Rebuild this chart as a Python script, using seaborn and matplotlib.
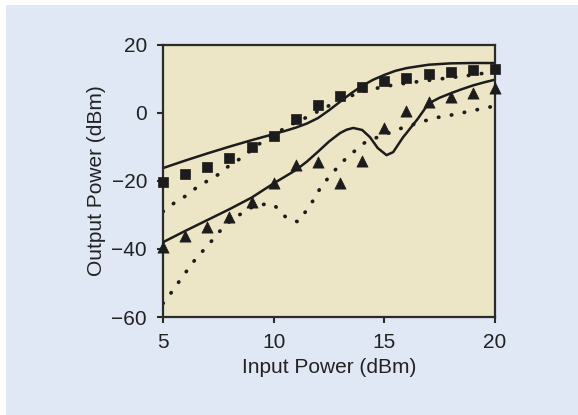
import numpy as np
import pandas as pd
import matplotlib
matplotlib.use("Agg")
import matplotlib.pyplot as plt
from matplotlib.patches import Rectangle
import seaborn as sns

# measured points (markers)
x_pts = [5, 6, 7, 8, 9, 10, 11, 12, 13, 14, 15, 16, 17, 18, 19, 20]
sq_y = [-20.2, -17.8, -15.8, -13.3, -10.1, -6.8, -1.9, 2.3, 5.0, 7.6, 9.5, 10.4, 11.4, 12.0, 12.5, 12.9]
tri_y = [-39.5, -36.3, -33.6, -30.6, -26.3, -20.6, -15.3, -14.3, -20.6, -14.0, -4.5, 0.5, 3.1, 4.8, 5.8, 7.3]

# upper solid curve
up_sol_x = [5, 6, 7, 8, 9, 10, 10.5, 11, 11.5, 12, 12.5, 13, 13.5, 14, 14.5, 15, 15.5, 16, 17, 18, 19, 20]
up_sol_y = [-16.2, -14.0, -11.9, -9.9, -8.0, -6.2, -5.3, -4.3, -3.1, -1.5, 0.8, 3.3, 5.8, 8.0, 9.8, 11.2, 12.4, 13.2, 14.2, 14.6, 14.7, 14.7]

# upper dotted curve
up_dot_x = [5, 5.5, 6, 6.5, 7, 7.6, 8, 8.6, 9, 9.6, 10, 10.7, 11, 11.7, 12, 13, 14, 15, 16, 17, 18, 19, 20]
up_dot_y = [-29.0, -26.5, -24.5, -22.0, -20.0, -17.7, -15.4, -13.0, -10.8, -7.9, -6.5, -3.6, -2.8, -0.6, 0.5, 3.8, 6.3, 7.8, 8.8, 9.6, 10.4, 11.2, 12.2]

# lower solid curve
lo_sol_x = [5, 6, 7, 8, 9, 10, 11, 11.5, 12, 12.5, 13, 13.3, 13.6, 14, 14.35, 14.7, 15.1, 15.4, 15.85, 16, 16.5, 17, 17.5, 18, 18.5, 19, 19.5, 20]
lo_sol_y = [-38.0, -34.7, -31.5, -28.3, -24.9, -20.7, -16.8, -14.3, -11.4, -8.4, -5.9, -4.9, -4.4, -5.0, -7.1, -10.3, -12.4, -11.5, -7.1, -5.9, -1.8, 2.8, 4.5, 5.8, 7.0, 8.1, 9.0, 9.8]

# lower dotted curve
lo_dot_x = [5, 5.4, 5.8, 6.1, 6.5, 7.05, 7.5, 8.0, 8.6, 9.1, 9.8, 10.1, 10.6, 11.1, 11.5, 11.9, 12.1, 12.5, 13.1, 13.6, 14.1, 14.7, 15.8, 16.7, 17.2, 17.8, 18.7, 19.8, 20]
lo_dot_y = [-56.0, -52.6, -48.9, -46.2, -42.7, -38.8, -35.2, -32.0, -29.3, -27.4, -26.6, -27.6, -31.0, -32.0, -28.5, -24.6, -22.1, -18.8, -14.4, -11.5, -8.8, -7.1, -4.4, -2.6, -1.5, -0.9, 0.3, 1.8, 2.0]

xticks = [5, 10, 15, 20]
yticks = [-60, -40, -20, 0, 20]

sns.set_style("ticks")
plt.rcParams['font.family'] = ['Liberation Sans', 'DejaVu Sans']
plt.rcParams['axes.unicode_minus'] = True

fig = plt.figure(figsize=(5.78, 4.15), dpi=100)
fig.patch.set_facecolor("white")
bg = Rectangle((6 / 578, 0), 1 - 6 / 578, 1 - 5 / 415,
               transform=fig.transFigure, facecolor="#dfe8f4",
               edgecolor="none", zorder=-10)
fig.patches.append(bg)

ax = fig.add_axes([163 / 578, 1 - 317 / 415, 332 / 578, 272 / 415])
ax.set_facecolor("#ece6c6")

dark = "#1c1c1c"
dot_style = (0, (0.1, 3.4))

sns.lineplot(x=up_sol_x, y=up_sol_y, ax=ax, color=dark, lw=1.8, estimator=None, sort=False)
sns.lineplot(x=lo_sol_x, y=lo_sol_y, ax=ax, color=dark, lw=1.8, estimator=None, sort=False)
sns.lineplot(x=up_dot_x, y=up_dot_y, ax=ax, color=dark, lw=2.7, estimator=None, sort=False)
sns.lineplot(x=lo_dot_x, y=lo_dot_y, ax=ax, color=dark, lw=2.7, estimator=None, sort=False)
for ln in ax.lines[2:4]:
    ln.set_linestyle(dot_style)
    ln.set_dash_capstyle("round")

sns.scatterplot(x=x_pts, y=sq_y, ax=ax, marker="s", s=50, color=dark, edgecolor=dark,
                linewidth=0.5, clip_on=False, zorder=5)
sns.scatterplot(x=x_pts, y=tri_y, ax=ax, marker="^", s=65, color=dark, edgecolor=dark,
                linewidth=0.5, clip_on=False, zorder=5)

ax.set_xlim(5, 20)
ax.set_ylim(-60, 20)
ax.set_xticks(xticks)
ax.set_yticks(yticks)
ax.set_yticklabels([str(v).replace("-", "\u2212") for v in yticks])

for sp in ax.spines.values():
    sp.set_visible(True)
    sp.set_color("#2b2b2b")
    sp.set_linewidth(1.6)

ax.tick_params(axis="both", direction="out", length=4.5, width=1.5, color="#2b2b2b",
               labelsize=15, pad=7, labelcolor="#222222")
ax.set_xlabel("Input Power (dBm)", fontsize=15, color="#222222", labelpad=4)
ax.set_ylabel("Output Power (dBm)", fontsize=15, color="#222222", labelpad=4)

fig.savefig("out.png", dpi=100, facecolor=fig.get_facecolor())
